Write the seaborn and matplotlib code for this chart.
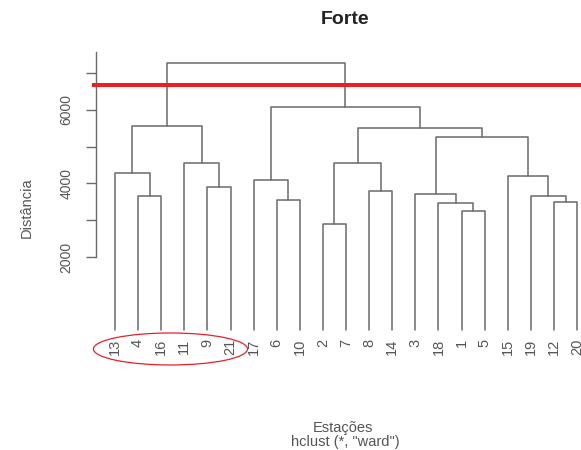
import numpy as np
import pandas as pd
import matplotlib
matplotlib.use("Agg")
import matplotlib.pyplot as plt
from matplotlib.patches import Ellipse
import seaborn as sns

# ---- data (R hclust style: negative = station, positive = earlier merge) ----
leaf_order = [13, 4, 16, 11, 9, 21, 17, 6, 10, 2, 7, 8, 14, 3, 18, 1, 5, 15, 19, 12, 20]
merge_left = [-2, -1, -18, -12, -6, -4, -19, -3, -8, -9, -17, -15, -13, -11, 1, 8, 15, 13, 11, 18]
merge_right = [-7, -5, 2, -20, -10, -16, 4, 3, -14, -21, 5, 7, 6, 10, 9, 12, 16, 14, 17, 19]
merge_height = [2899, 3253, 3470, 3497, 3552, 3661, 3661, 3715, 3797, 3906,
                4096, 4205, 4286, 4558, 4558, 5266, 5510, 5565, 6082, 7278]
cut_height = 6680
y_ticks = [2000, 3000, 4000, 5000, 6000, 7000]
y_tick_labels = ["2000", "", "4000", "", "6000", ""]
highlight_group = [13, 4, 16, 11, 9, 21]

title = "Forte"
ylabel = "Distância"
xlabel = "Estações"
sublabel = 'hclust (*, "ward")'

# ---- build dendrogram segments ----
leaf_pos = {s: i + 1 for i, s in enumerate(leaf_order)}
node_x, node_y = {}, {}


def coord(ref):
    if ref < 0:
        return leaf_pos[-ref], 0.0
    return node_x[ref], node_y[ref]


rows = []
for k, (a, b, h) in enumerate(zip(merge_left, merge_right, merge_height), start=1):
    xa, ya = coord(a)
    xb, yb = coord(b)
    node_x[k] = (xa + xb) / 2
    node_y[k] = h
    for order, (px, py) in enumerate([(xa, ya), (xa, h), (xb, h), (xb, yb)]):
        rows.append({"merge": k, "order": order, "x": px, "y": py})
seg = pd.DataFrame(rows)

# ---- style ----
sns.set_style("white")
plt.rcParams["font.family"] = ["Liberation Sans", "DejaVu Sans"]

W, H = 581, 450
fig = plt.figure(figsize=(W / 100, H / 100), dpi=100)
ax = fig.add_axes([96 / W, (H - 332) / H, (W - 96) / W, (332 - 52) / H])

line_col = "#6a6a6a"
text_col = "#555555"

sns.lineplot(data=seg, x="x", y="y", units="merge", estimator=None, sort=False,
             color=line_col, linewidth=1.1, ax=ax, legend=False)

ylo, yhi = -41, 7578
ax.set_ylim(ylo, yhi)
ax.set_xlim(0.177, 21.17)

# cut line
ax.plot([0.004, 21.17], [cut_height, cut_height], color="#ee1c25",
        linewidth=2.9, clip_on=False, solid_capstyle="butt", zorder=5)

# axes
for s in ["top", "right", "bottom"]:
    ax.spines[s].set_visible(False)
ax.spines["left"].set_color(line_col)
ax.spines["left"].set_linewidth(1.0)
ax.spines["left"].set_bounds(2000, yhi)
ax.set_yticks(y_ticks)
ax.set_yticklabels(y_tick_labels, rotation=90, va="center", fontsize=10, color=text_col)
ax.tick_params(axis="y", direction="out", length=7.2, width=1.0, color=line_col, pad=9, left=True)

ax.set_xticks(list(range(1, len(leaf_order) + 1)))
ax.set_xticklabels([str(s) for s in leaf_order], rotation=90, fontsize=10.5, color=text_col)
ax.tick_params(axis="x", length=0, pad=5)
ax.set_xlabel("")
ax.set_ylabel("")

# highlight ellipse around first group
gx = [leaf_pos[s] for s in highlight_group]
cx = (min(gx) + max(gx)) / 2 - 0.1
ell = Ellipse((cx, -503), 6.67, 871, fill=False, edgecolor="#e8202a",
              linewidth=0.9, clip_on=False)
ax.add_patch(ell)

fig.text(345 / W, 1 - 20 / H, title, ha="center", va="center", fontsize=14,
         fontweight="bold", color="#222222")
fig.text(27 / W, 1 - 208 / H, ylabel, ha="center", va="center", rotation=90,
         fontsize=10.5, color=text_col)
fig.text(343 / W, 1 - 428 / H, xlabel, ha="center", va="center", fontsize=10.5, color=text_col)
fig.text(345 / W, 1 - 442 / H, sublabel, ha="center", va="center", fontsize=10.5, color=text_col)

fig.savefig("out.png", dpi=100, facecolor="white")
